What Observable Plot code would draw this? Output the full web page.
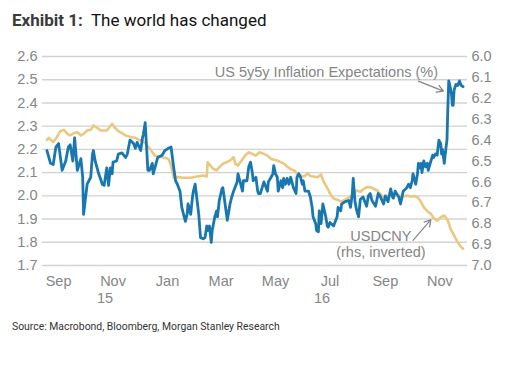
<!DOCTYPE html>
<html>
<head>
<meta charset="utf-8">
<script src="https://cdn.jsdelivr.net/npm/d3@7"></script>
<script src="https://cdn.jsdelivr.net/npm/@observablehq/plot@0.6"></script>
<style>
  html, body { margin: 0; padding: 0; background: #fff; }
  body { width: 521px; height: 368px; position: relative; overflow: hidden; }
  #title { position: absolute; left: 12px; top: 10px; font-family: Roboto, sans-serif; font-size: 17px; color: #111; white-space: nowrap; }
  #title b { color: #3a3a3a; font-weight: 700; }
  #chart { position: absolute; left: 0; top: 40px; }
  #source { position: absolute; left: 12px; top: 320px; font-family: Roboto, sans-serif; font-size: 10.4px; color: #333; white-space: nowrap; }
</style>
</head>
<body>
<div id="title"><b>Exhibit 1:</b>&nbsp; The world has changed</div>
<div id="chart"></div>
<div id="source">Source: Macrobond, Bloomberg, Morgan Stanley Research</div>
<script>
const usDates = ["2015-08-19","2015-08-23","2015-08-26","2015-08-29","2015-09-01","2015-09-05","2015-09-09","2015-09-12","2015-09-14","2015-09-17","2015-09-19","2015-09-22","2015-09-26","2015-09-28","2015-09-29","2015-10-03","2015-10-07","2015-10-09","2015-10-10","2015-10-12","2015-10-16","2015-10-20","2015-10-22","2015-10-25","2015-10-27","2015-10-29","2015-10-31","2015-11-01","2015-11-05","2015-11-07","2015-11-11","2015-11-15","2015-11-17","2015-11-20","2015-11-24","2015-11-26","2015-11-28","2015-12-02","2015-12-04","2015-12-05","2015-12-07","2015-12-09","2015-12-10","2015-12-12","2015-12-15","2015-12-16","2015-12-21","2015-12-26","2015-12-29","2016-01-02","2016-01-05","2016-01-08","2016-01-10","2016-01-12","2016-01-15","2016-01-17","2016-01-21","2016-01-23","2016-01-24","2016-01-27","2016-01-29","2016-01-30","2016-02-01","2016-02-05","2016-02-07","2016-02-10","2016-02-12","2016-02-14","2016-02-15","2016-02-17","2016-02-19","2016-02-20","2016-02-23","2016-02-25","2016-02-26","2016-02-28","2016-03-02","2016-03-03","2016-03-08","2016-03-11","2016-03-13","2016-03-15","2016-03-19","2016-03-20","2016-03-23","2016-03-25","2016-03-26","2016-03-30","2016-04-01","2016-04-03","2016-04-05","2016-04-06","2016-04-09","2016-04-11","2016-04-12","2016-04-14","2016-04-18","2016-04-22","2016-04-23","2016-04-26","2016-04-28","2016-04-29","2016-05-01","2016-05-03","2016-05-04","2016-05-07","2016-05-09","2016-05-10","2016-05-12","2016-05-14","2016-05-16","2016-05-18","2016-05-21","2016-05-24","2016-05-25","2016-05-27","2016-05-29","2016-05-31","2016-06-01","2016-06-03","2016-06-07","2016-06-09","2016-06-11","2016-06-12","2016-06-15","2016-06-16","2016-06-18","2016-06-19","2016-06-21","2016-06-23","2016-06-26","2016-06-28","2016-06-29","2016-07-01","2016-07-05","2016-07-09","2016-07-10","2016-07-13","2016-07-14","2016-07-18","2016-07-22","2016-07-24","2016-07-26","2016-07-27","2016-07-29","2016-07-31","2016-08-02","2016-08-04","2016-08-07","2016-08-11","2016-08-13","2016-08-15","2016-08-17","2016-08-21","2016-08-24","2016-08-26","2016-08-30","2016-09-01","2016-09-04","2016-09-07","2016-09-09","2016-09-10","2016-09-12","2016-09-16","2016-09-18","2016-09-21","2016-09-25","2016-09-27","2016-09-29","2016-10-01","2016-10-02","2016-10-05","2016-10-07","2016-10-08","2016-10-10","2016-10-11","2016-10-12","2016-10-14","2016-10-16","2016-10-18","2016-10-19","2016-10-22","2016-10-24","2016-10-25","2016-10-27","2016-10-29","2016-10-31","2016-11-02","2016-11-03","2016-11-04","2016-11-06","2016-11-08","2016-11-09","2016-11-10","2016-11-11","2016-11-12","2016-11-14","2016-11-15","2016-11-16","2016-11-17","2016-11-19","2016-11-21","2016-11-23","2016-11-25","2016-11-27"];
const usValues = [2.195,2.14,2.135,2.21,2.225,2.11,2.15,2.21,2.22,2.15,2.25,2.11,2.16,2.08,1.92,2.05,2.08,2.18,2.195,2.15,2.095,2.05,2.045,2.12,2.045,2.12,2.095,2.145,2.15,2.18,2.185,2.165,2.18,2.24,2.225,2.205,2.23,2.195,2.25,2.265,2.315,2.18,2.11,2.11,2.14,2.095,2.165,2.175,2.195,2.205,2.21,2.12,2.065,2.05,2.02,1.95,1.89,1.92,1.965,1.92,1.995,2.02,2.05,1.92,1.82,1.815,1.82,1.87,1.85,1.87,1.80,1.85,1.91,1.935,1.91,1.98,2.03,2.035,1.895,1.965,1.995,2.02,2.06,2.095,2.05,2.02,2.065,2.065,2.125,2.145,2.10,2.065,2.08,2.02,2.01,2.01,2.06,2.02,2.06,2.08,2.095,2.13,2.095,2.08,2.02,2.065,2.035,2.075,2.05,2.075,2.05,2.08,2.035,2.01,2.08,2.095,2.08,2.05,2.065,2.02,2.02,1.995,1.95,1.91,1.88,1.85,1.845,1.935,1.88,1.965,1.915,1.87,1.865,1.885,1.87,1.91,1.95,1.935,1.965,1.975,1.98,1.95,2.01,2.075,1.975,1.935,1.91,1.985,1.995,1.955,2.0,2.01,1.98,1.955,2.01,2.0,1.965,2.0,1.975,2.03,1.995,1.99,2.02,1.995,1.965,2.02,2.035,2.05,2.035,2.065,2.095,2.05,2.095,2.14,2.12,2.14,2.10,2.15,2.125,2.14,2.11,2.15,2.175,2.165,2.18,2.175,2.24,2.225,2.18,2.20,2.14,2.21,2.24,2.38,2.495,2.48,2.44,2.39,2.39,2.455,2.48,2.475,2.495,2.475,2.47];

const cnyDates = ["2015-08-19","2015-08-21","2015-08-26","2015-08-30","2015-09-03","2015-09-07","2015-09-11","2015-09-14","2015-09-18","2015-09-22","2015-09-26","2015-09-29","2015-10-03","2015-10-07","2015-10-10","2015-10-14","2015-10-18","2015-10-25","2015-10-31","2015-11-03","2015-11-07","2015-11-11","2015-11-15","2015-11-22","2015-11-26","2015-11-30","2015-12-03","2015-12-07","2015-12-11","2015-12-15","2015-12-18","2015-12-22","2015-12-26","2015-12-29","2016-01-02","2016-01-04","2016-01-06","2016-01-08","2016-01-12","2016-01-19","2016-01-27","2016-02-03","2016-02-10","2016-02-14","2016-02-15","2016-02-18","2016-02-21","2016-02-25","2016-02-28","2016-03-03","2016-03-07","2016-03-11","2016-03-15","2016-03-17","2016-03-20","2016-03-24","2016-03-28","2016-04-01","2016-04-05","2016-04-09","2016-04-13","2016-04-18","2016-04-22","2016-04-26","2016-05-03","2016-05-11","2016-05-14","2016-05-18","2016-05-22","2016-05-25","2016-05-29","2016-06-02","2016-06-06","2016-06-09","2016-06-17","2016-06-21","2016-06-24","2016-06-28","2016-07-01","2016-07-05","2016-07-09","2016-07-12","2016-07-16","2016-07-20","2016-07-26","2016-07-31","2016-08-04","2016-08-08","2016-08-11","2016-08-15","2016-08-19","2016-08-23","2016-08-26","2016-08-30","2016-09-07","2016-09-14","2016-09-22","2016-09-25","2016-09-29","2016-10-03","2016-10-07","2016-10-10","2016-10-14","2016-10-18","2016-10-22","2016-10-25","2016-10-29","2016-11-02","2016-11-06","2016-11-10","2016-11-13","2016-11-17","2016-11-21","2016-11-25","2016-11-27"];
const cnyValues = [6.399,6.389,6.41,6.386,6.357,6.351,6.37,6.378,6.367,6.362,6.378,6.37,6.354,6.351,6.33,6.341,6.354,6.354,6.322,6.341,6.357,6.367,6.378,6.386,6.389,6.399,6.402,6.415,6.434,6.458,6.474,6.478,6.482,6.485,6.49,6.51,6.54,6.58,6.577,6.58,6.58,6.574,6.569,6.574,6.506,6.522,6.537,6.545,6.53,6.514,6.506,6.498,6.482,6.514,6.522,6.498,6.474,6.458,6.466,6.474,6.458,6.466,6.474,6.49,6.498,6.514,6.526,6.54,6.545,6.561,6.569,6.574,6.56,6.572,6.578,6.565,6.6,6.63,6.655,6.68,6.685,6.692,6.69,6.68,6.665,6.641,6.647,6.633,6.625,6.625,6.633,6.641,6.657,6.673,6.66,6.665,6.67,6.665,6.67,6.668,6.673,6.689,6.721,6.74,6.753,6.773,6.785,6.769,6.761,6.785,6.825,6.856,6.889,6.912,6.92];

const leftTicks = [1.7, 1.8, 1.9, 2.0, 2.1, 2.2, 2.3, 2.4, 2.5, 2.6];
const rightTicks = [6.0, 6.1, 6.2, 6.3, 6.4, 6.5, 6.6, 6.7, 6.8, 6.9, 7.0];
const monthTicks = ["2015-09-01","2015-11-01","2016-01-01","2016-03-01","2016-05-01","2016-07-01","2016-09-01","2016-11-01"];
const yearLabels = [{date: "2015-11-01", label: "15"}, {date: "2016-07-01", label: "16"}];
const xDomain = ["2015-08-14", "2016-12-02"];

const annUS = [{label: "US 5y5y Inflation Expectations (%)", date: "2016-10-30", value: 2.531,
                fromDate: "2016-10-08", fromValue: 2.494, toDate: "2016-11-05", toValue: 2.451}];
const annCNY = [{label: "USDCNY\n(rhs, inverted)", date: "2016-08-27", value: 6.895,
                 fromDate: "2016-10-02", fromValue: 6.88, toDate: "2016-10-22", toValue: 6.781}];

const parse = d3.utcParse("%Y-%m-%d");
// right axis (USDCNY, inverted) mapped onto left scale: 6.0 -> 2.6, 7.0 -> 1.7
const toLeft = v => 2.6 - (v - 6.0) * 0.9;
const fromLeft = y => 6.0 + (2.6 - y) / 0.9;

const us = usDates.map((d, i) => ({date: parse(d), value: usValues[i]}));
const cny = cnyDates.map((d, i) => ({date: parse(d), value: cnyValues[i]}));

const gray = "#858585";
const font = "'Liberation Sans', Arial, sans-serif";
const fs = 14.5;

const chart = Plot.plot({
  width: 521,
  height: 270,
  marginTop: 16,
  marginBottom: 45,
  marginLeft: 42,
  marginRight: 54,
  style: {fontFamily: font, fontSize: "14.5px", background: "white", overflow: "visible"},
  x: {type: "utc", domain: xDomain.map(parse)},
  y: {domain: [1.7, 2.6]},
  marks: [
    Plot.gridY(leftTicks, {stroke: "#d2d2d2", strokeOpacity: 1, strokeWidth: 1.4}),
    Plot.axisY(leftTicks, {anchor: "left", tickSize: 0, tickPadding: 5, label: null,
      tickFormat: d => d.toFixed(1), fill: gray, fontSize: fs}),
    Plot.axisY(rightTicks.map(toLeft), {anchor: "right", tickSize: 0, tickPadding: 4, label: null,
      tickFormat: d => fromLeft(d).toFixed(1), fill: gray, fontSize: fs}),
    Plot.axisX(monthTicks.map(parse), {anchor: "bottom", tickSize: 0, tickPadding: 10, label: null,
      tickFormat: d3.utcFormat("%b"), fill: gray, fontSize: fs}),
    Plot.text(yearLabels, {x: d => parse(d.date), frameAnchor: "bottom", text: "label",
      dx: -8, dy: 33, lineAnchor: "middle", fill: gray, fontSize: fs}),
    Plot.line(cny, {x: "date", y: d => toLeft(d.value), stroke: "#ebc87f", strokeWidth: 2.6, curve: "linear"}),
    Plot.line(us, {x: "date", y: "value", stroke: "#1877b0", strokeWidth: 2.8, curve: "linear"}),
    Plot.text(annUS, {x: d => parse(d.date), y: "value", text: "label", textAnchor: "end",
      lineAnchor: "middle", fill: gray, fontSize: fs}),
    Plot.arrow(annUS, {x1: d => parse(d.fromDate), y1: "fromValue", x2: d => parse(d.toDate), y2: "toValue",
      stroke: gray, strokeWidth: 1.2, headLength: 9, bend: 0}),
    Plot.text(annCNY, {x: d => parse(d.date), y: d => toLeft(d.value), text: "label", textAnchor: "middle",
      lineAnchor: "middle", lineHeight: 1.1, fill: gray, fontSize: fs}),
    Plot.arrow(annCNY, {x1: d => parse(d.fromDate), y1: d => toLeft(d.fromValue), x2: d => parse(d.toDate), y2: d => toLeft(d.toValue),
      stroke: gray, strokeWidth: 1.2, headLength: 9, bend: 0})
  ]
});
document.getElementById("chart").appendChild(chart);
</script>
</body>
</html>
